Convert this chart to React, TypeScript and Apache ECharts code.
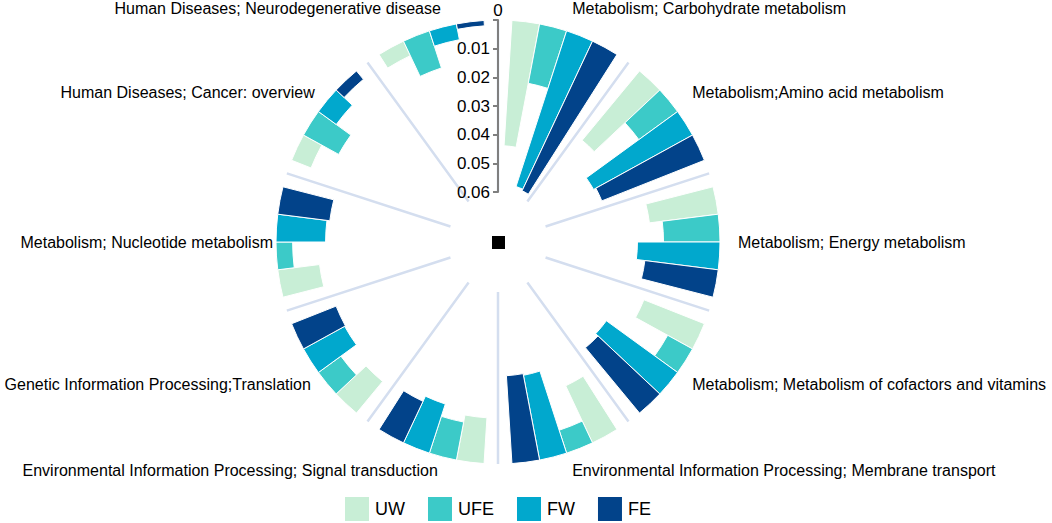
import React, { useEffect, useRef } from "react";
import * as echarts from "echarts";

const categories = [
  "Metabolism; Carbohydrate metabolism",
  "Metabolism;Amino acid metabolism",
  "Metabolism; Energy metabolism",
  "Metabolism; Metabolism of cofactors and vitamins",
  "Environmental Information Processing; Membrane transport",
  "Environmental Information Processing; Signal transduction",
  "Genetic Information Processing;Translation",
  "Metabolism; Nucleotide metabolism",
  "Human Diseases; Cancer: overview",
  "Human Diseases; Neurodegenerative disease",
];

const seriesNames = ["UW", "UFE", "FW", "FE"];
const UW = [0.0438, 0.0314, 0.0242, 0.0227, 0.022, 0.016, 0.0143, 0.0147, 0.0073, 0.0056];
const UFE = [0.0211, 0.0167, 0.0197, 0.0099, 0.0084, 0.0135, 0.0097, 0.0058, 0.014, 0.0136];
const FW = [0.0571, 0.0394, 0.0288, 0.0307, 0.0301, 0.018, 0.0164, 0.0173, 0.0077, 0.0056];
const FE = [0.0577, 0.0385, 0.0258, 0.0296, 0.0307, 0.016, 0.0167, 0.0183, 0.0038, 0.0019];

const colors = ["#c8eed6", "#3ccac8", "#01a8cd", "#02438a"];
const FONT = "'Liberation Sans', Arial, Helvetica, sans-serif";

// per-label nudges [top, right, bottom, left] padding
const labelPads: number[][] = [
  [0, 0, -3, 0],
  [0, 0, 0, 0],
  [0, 0, 0, 0],
  [-7, 0, 0, 0],
  [-8, 0, 0, 0],
  [-8, -14, 0, 0],
  [-7, -7, 0, 0],
  [0, -15, 0, 0],
  [0, -11, 0, 0],
  [0, -17, -3, 0],
];

export default function App() {
  const ref = useRef<HTMLDivElement>(null);
  useEffect(() => {
    if (!ref.current) return;
    const chart = echarts.init(ref.current, null, { renderer: "svg" });
    const values = [UW, UFE, FW, FE];
    chart.setOption({
      animation: false,
      backgroundColor: "#ffffff",
      textStyle: { fontFamily: FONT },
      polar: { center: [498, 242], radius: [50, 222] },
      angleAxis: {
        type: "category",
        startAngle: 90,
        clockwise: true,
        data: categories.map((c, i) => ({
          value: c,
          textStyle: { padding: labelPads[i] },
        })),
        axisLine: { show: false },
        axisTick: { show: false },
        axisLabel: {
          show: true,
          interval: 0,
          margin: 18,
          fontSize: 16,
          color: "#000",
          fontFamily: FONT,
        },
        splitLine: {
          show: true,
          interval: 0,
          lineStyle: { color: "#d4deef", width: 2.5 },
        },
      },
      radiusAxis: {
        type: "value",
        inverse: true,
        min: 0,
        max: 0.06,
        interval: 0.01,
        name: "0",
        nameLocation: "start",
        nameGap: 1,
        nameTextStyle: { fontSize: 17, color: "#000", fontFamily: FONT },
        axisLine: { show: true, lineStyle: { color: "#7f7f7f", width: 2 } },
        axisTick: { show: true, inside: true, length: 5, lineStyle: { color: "#7f7f7f", width: 2 } },
        axisLabel: {
          inside: true,
          fontSize: 17,
          color: "#000",
          margin: 8,
          fontFamily: FONT,
          formatter: (v: number) => (v === 0 ? "" : String(Number(v.toFixed(2)))),
        },
        splitLine: { show: false },
        z: 10,
      },
      legend: {
        data: seriesNames,
        left: 338,
        top: 490,
        itemWidth: 26,
        itemHeight: 26,
        itemGap: 21,
        icon: "rect",
        textStyle: { fontSize: 18, color: "#000", fontFamily: FONT },
      },
      series: seriesNames.map((name, i) => ({
        name,
        type: "bar",
        coordinateSystem: "polar",
        data: values[i],
        barGap: "0%",
        barCategoryGap: "20%",
        itemStyle: { color: colors[i], borderColor: "#ffffff", borderWidth: 1 },
      })),
      graphic: [
        {
          type: "rect",
          shape: { x: 492, y: 236, width: 13, height: 13 },
          style: { fill: "#000" },
        },
      ],
    });
    return () => chart.dispose();
  }, []);
  return (
    <div
      ref={ref}
      style={{ position: "absolute", left: 0, top: 0, width: 1052, height: 523 }}
    />
  );
}
